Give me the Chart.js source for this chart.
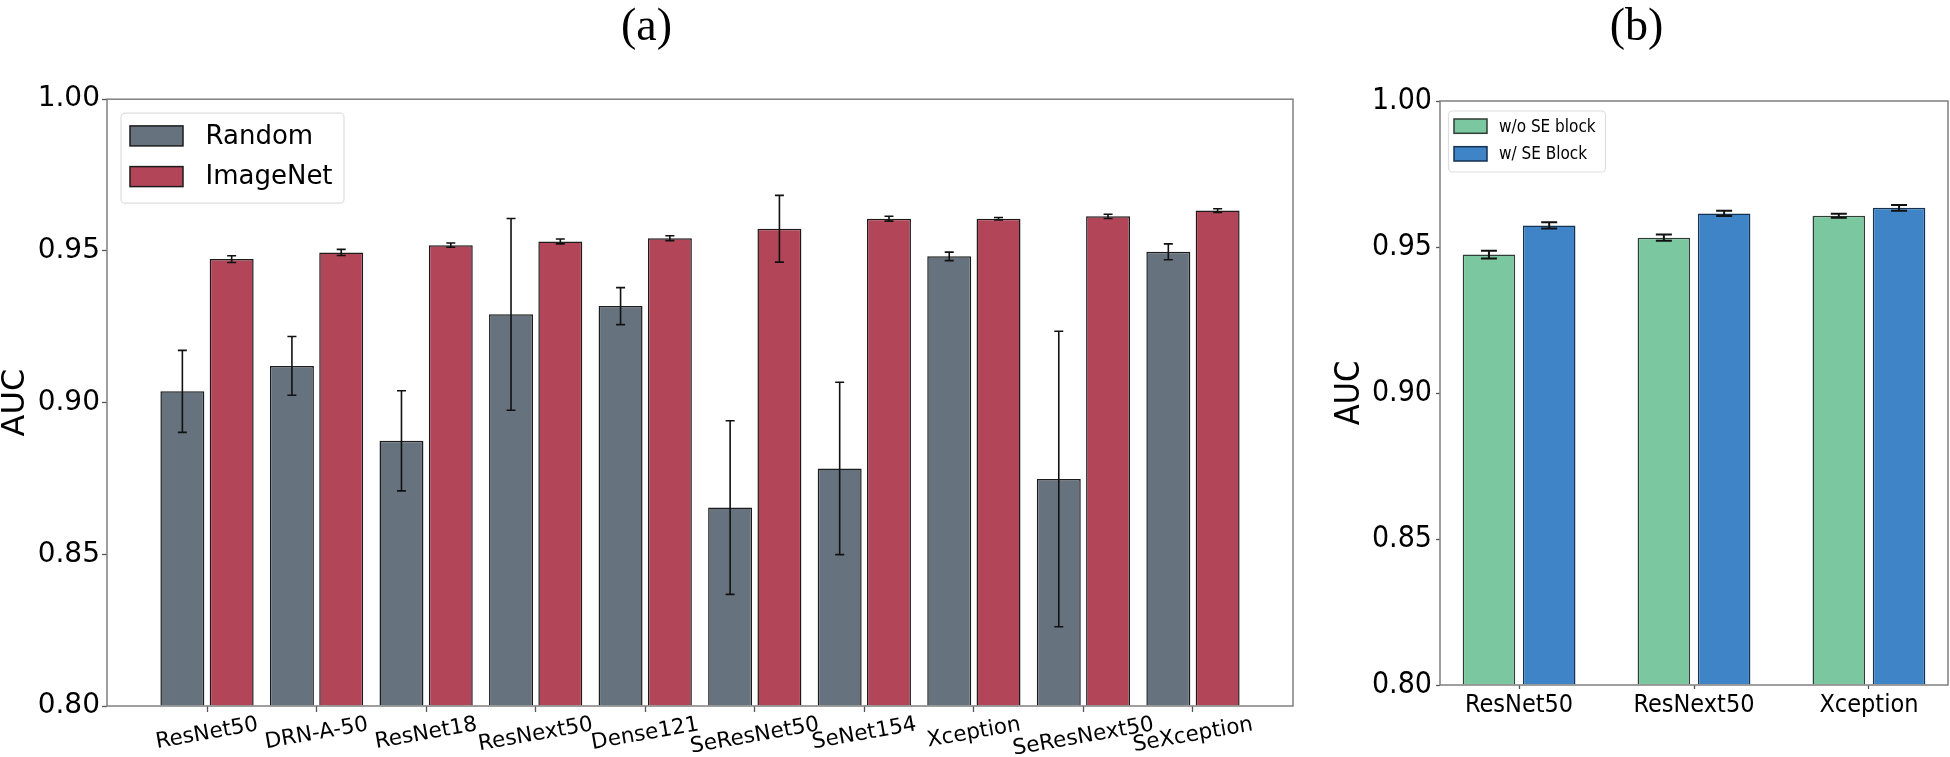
<!DOCTYPE html>
<html>
<head>
<meta charset="utf-8">
<script src="https://cdn.jsdelivr.net/npm/chart.js@4.4.0/dist/chart.umd.min.js"></script>
<style>
  html, body { margin: 0; padding: 0; background: #fff; }
  body { width: 1950px; height: 757px; position: relative; overflow: hidden; }
  #boxA { position: absolute; left: 0; top: 0; width: 1300px; height: 757px; }
  #boxB { position: absolute; left: 1325px; top: 0; width: 625px; height: 757px; }
</style>
</head>
<body>
<div id="boxA"><canvas id="chartA"></canvas></div>
<div id="boxB"><canvas id="chartB"></canvas></div>
<script>
// ====== DATOS (a) ======
const modelsA = ["ResNet50", "DRN-A-50", "ResNet18", "ResNext50", "Dense121",
                 "SeResNet50", "SeNet154", "Xception", "SeResNext50", "SeXception"];
const randomAUC   = [0.9037, 0.9121, 0.8874, 0.9291, 0.9318, 0.8654, 0.8783, 0.9482, 0.8748, 0.9497];
const randomErr   = [0.0135, 0.0097, 0.0165, 0.0316, 0.0061, 0.0286, 0.0284, 0.0014, 0.0487, 0.0026];
const imagenetAUC = [0.9473, 0.9495, 0.9519, 0.9531, 0.9542, 0.9573, 0.9606, 0.9606, 0.9614, 0.9633];
const imagenetErr = [0.0011, 0.0010, 0.0007, 0.0008, 0.0008, 0.0110, 0.0008, 0.0004, 0.0007, 0.0006];

// ====== DATOS (b) ======
const modelsB = ["ResNet50", "ResNext50", "Xception"];
const withoutSE    = [0.9474, 0.9532, 0.9607];
const withoutSEErr = [0.0013, 0.0011, 0.0007];
const withSE       = [0.9574, 0.9615, 0.9634];
const withSEErr    = [0.0011, 0.0009, 0.0010];

const yTicks = [0.80, 0.85, 0.90, 0.95, 1.00];
const yMin = 0.80, yMax = 1.00;

const FONT = "'DejaVu Sans', sans-serif";
const FONT_B = "'DejaVu Sans Condensed', 'DejaVu Sans', sans-serif";
const SERIF = "'Liberation Serif', 'DejaVu Serif', serif";

const toPoints = arr => arr.map((v, i) => ({ x: i, y: v }));

// ====== MARCO ======
const framePlugin = {
    id: "frame",
    afterDraw(chart) {
        const { ctx, chartArea: a } = chart;
        ctx.save();
        ctx.strokeStyle = "#7f7f7f";
        ctx.lineWidth = 1.5;
        ctx.strokeRect(a.left, a.top, a.right - a.left, a.bottom - a.top);
        ctx.restore();
    }
};

// ====== BARRAS DE ERROR ======
function errorBars(cap, width) {
    return {
        id: "errorBars",
        afterDatasetsDraw(chart) {
            const { ctx } = chart;
            const y = chart.scales.y;
            ctx.save();
            ctx.strokeStyle = "#111";
            ctx.lineWidth = width;
            chart.data.datasets.forEach((ds, d) => {
                chart.getDatasetMeta(d).data.forEach((bar, i) => {
                    const v = ds.data[i].y, e = ds.errors[i];
                    const top = y.getPixelForValue(v + e);
                    const bot = y.getPixelForValue(v - e);
                    ctx.beginPath();
                    ctx.moveTo(bar.x, top); ctx.lineTo(bar.x, bot);
                    ctx.moveTo(bar.x - cap / 2, top); ctx.lineTo(bar.x + cap / 2, top);
                    ctx.moveTo(bar.x - cap / 2, bot); ctx.lineTo(bar.x + cap / 2, bot);
                    ctx.stroke();
                });
            });
            ctx.restore();
        }
    };
}

// ====== LEYENDA DENTRO DEL GRÁFICO ======
function legendBox(cfg) {
    return {
        id: "legendBox",
        afterDraw(chart) {
            const { ctx, chartArea: a } = chart;
            const x0 = a.left + cfg.dx, y0 = a.top + cfg.dy;
            ctx.save();
            ctx.fillStyle = "rgba(255,255,255,0.85)";
            ctx.strokeStyle = "#dedede";
            ctx.lineWidth = 1.2;
            ctx.beginPath();
            ctx.roundRect(x0, y0, cfg.w, cfg.h, 4);
            ctx.fill();
            ctx.stroke();
            ctx.font = cfg.font;
            ctx.textBaseline = "middle";
            chart.data.datasets.forEach((ds, i) => {
                const sy = y0 + cfg.rows[i];
                ctx.fillStyle = ds.backgroundColor;
                ctx.fillRect(x0 + cfg.sx, sy, cfg.sw, cfg.sh);
                ctx.strokeStyle = ds.borderColor;
                ctx.lineWidth = 1.5;
                ctx.strokeRect(x0 + cfg.sx, sy, cfg.sw, cfg.sh);
                ctx.fillStyle = "#000";
                ctx.fillText(ds.label, x0 + cfg.tx, sy + cfg.sh / 2 + 1);
            });
            ctx.restore();
        }
    };
}

// ====== ETIQUETAS GIRADAS (a) ======
const rotatedLabels = {
    id: "rotLabels",
    afterDraw(chart) {
        const { ctx } = chart;
        const xs = chart.scales.x;
        const ang = 10 * Math.PI / 180;
        const size = 21.5;
        ctx.save();
        ctx.font = size + "px " + FONT;
        ctx.fillStyle = "#000";
        ctx.textAlign = "center";
        ctx.textBaseline = "middle";
        modelsA.forEach((name, i) => {
            const x = xs.getPixelForValue(i);
            const w = ctx.measureText(name).width;
            const bh = w * Math.sin(ang) + size * Math.cos(ang);
            ctx.save();
            ctx.translate(x, xs.top + 8 + bh / 2);
            ctx.rotate(-ang);
            ctx.fillText(name, 0, 0);
            ctx.restore();
        });
        ctx.restore();
    }
};

function yScale(fontFamily, fontSize, tickLen, pad, width, titleSize, titlePad) {
    return {
        type: "linear",
        min: yMin, max: yMax,
        beginAtZero: false,
        afterBuildTicks: s => { s.ticks = yTicks.map(v => ({ value: v })); },
        ticks: {
            font: { family: fontFamily, size: fontSize },
            color: "#000",
            padding: pad,
            callback: v => Number(v).toFixed(2)
        },
        grid: { drawOnChartArea: false, drawTicks: true, tickLength: tickLen, tickColor: "#555", tickWidth: 1.3 },
        border: { display: false },
        title: {
            display: true, text: "AUC", color: "#000",
            font: { family: fontFamily, size: titleSize, lineHeight: 1 },
            padding: { top: titlePad, bottom: 0 }
        },
        afterFit: s => { s.width = width; }
    };
}

document.addEventListener("DOMContentLoaded", () => {
    // ====== GRÁFICO (a) ======
    new Chart(document.getElementById("chartA"), {
        type: "bar",
        data: {
            datasets: [{
                label: "Random",
                data: toPoints(randomAUC),
                errors: randomErr,
                backgroundColor: "#66737f",
                borderColor: "#1c1c1c",
                borderWidth: 1.5,
                base: yMin,
                categoryPercentage: 0.9,
                barPercentage: 0.892
            }, {
                label: "ImageNet",
                data: toPoints(imagenetAUC),
                errors: imagenetErr,
                backgroundColor: "#b34559",
                borderColor: "#1c1c1c",
                borderWidth: 1.5,
                base: yMin,
                categoryPercentage: 0.9,
                barPercentage: 0.892
            }]
        },
        options: {
            responsive: true,
            maintainAspectRatio: false,
            animation: false,
            devicePixelRatio: 1,
            layout: { padding: { left: 0, right: 7, top: 0, bottom: 0 } },
            plugins: {
                legend: { display: false },
                tooltip: { enabled: false },
                title: {
                    display: true, text: "(a)", color: "#000",
                    font: { family: SERIF, size: 46, weight: "normal", lineHeight: 1.2 },
                    padding: { top: 0, bottom: 44 }
                }
            },
            scales: {
                x: {
                    type: "linear",
                    min: -0.913, max: 9.913,
                    offset: false,
                    afterBuildTicks: s => { s.ticks = modelsA.map((_, i) => ({ value: i })); },
                    ticks: { display: false },
                    grid: { offset: false, drawOnChartArea: false, drawTicks: true, tickLength: 6, tickColor: "#555", tickWidth: 1.3 },
                    border: { display: false },
                    afterFit: s => { s.height = 51; }
                },
                y: yScale(FONT, 28, 5, 2, 107, 32, 0)
            }
        },
        plugins: [framePlugin, errorBars(9, 1.6), rotatedLabels,
            legendBox({ dx: 14, dy: 14, w: 223, h: 90, sx: 9, sw: 53, sh: 20, rows: [12.7, 53.4], tx: 84.5, font: "26px " + FONT })]
    });

    // ====== GRÁFICO (b) ======
    new Chart(document.getElementById("chartB"), {
        type: "bar",
        data: {
            datasets: [{
                label: "w/o SE block",
                data: toPoints(withoutSE),
                errors: withoutSEErr,
                backgroundColor: "#7ac7a0",
                borderColor: "#2f3d35",
                borderWidth: 1.5,
                base: yMin,
                categoryPercentage: 0.689,
                barPercentage: 0.872
            }, {
                label: "w/ SE Block",
                data: toPoints(withSE),
                errors: withSEErr,
                backgroundColor: "#3f84c7",
                borderColor: "#15314f",
                borderWidth: 1.5,
                base: yMin,
                categoryPercentage: 0.689,
                barPercentage: 0.872
            }]
        },
        options: {
            responsive: true,
            maintainAspectRatio: false,
            animation: false,
            devicePixelRatio: 1,
            layout: { padding: { left: 0, right: 2, top: 0, bottom: 0 } },
            plugins: {
                legend: { display: false },
                tooltip: { enabled: false },
                title: {
                    display: true, text: "(b)", color: "#000",
                    font: { family: SERIF, size: 46, weight: "normal", lineHeight: 1.2 },
                    padding: { top: 0, bottom: 45.8 }
                }
            },
            scales: {
                x: {
                    type: "linear",
                    min: -0.452, max: 2.452,
                    offset: false,
                    afterBuildTicks: s => { s.ticks = modelsB.map((_, i) => ({ value: i })); },
                    ticks: {
                        autoSkip: false, maxRotation: 0, minRotation: 0,
                        font: { family: FONT_B, size: 25 },
                        color: "#000",
                        padding: 1,
                        callback: v => modelsB[v] ?? ""
                    },
                    grid: { offset: false, drawOnChartArea: false, drawTicks: true, tickLength: 4, tickColor: "#555", tickWidth: 1.3 },
                    border: { display: false },
                    afterFit: s => { s.height = 72; }
                },
                y: yScale(FONT_B, 30, 4, 4, 115, 34, 8)
            }
        },
        plugins: [framePlugin, errorBars(16, 2),
            legendBox({ dx: 8.5, dy: 10, w: 157, h: 61, sx: 5.5, sw: 33, sh: 14.3, rows: [8, 35.7], tx: 50.5, font: "17px " + FONT_B })]
    });
});
</script>
</body>
</html>
